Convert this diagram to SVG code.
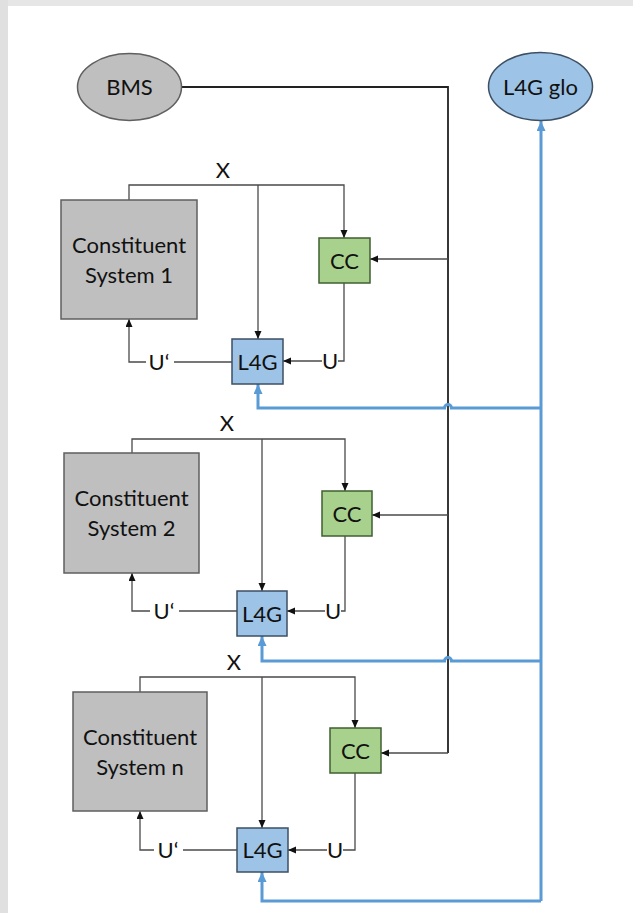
<svg xmlns="http://www.w3.org/2000/svg" width="633" height="913" viewBox="0 0 633 913">
  <style>
    text { font-family: Lato, "Open Sans", "Liberation Sans", sans-serif; fill: #111111; text-anchor: middle; }
    .lbl { font-size: 22px; }
    .sys { fill: #bfbfbf; stroke: #5f5f5f; stroke-width: 1.5; }
    .cc { fill: #a9d18e; stroke: #3f5f30; stroke-width: 1.5; }
    .l4g { fill: #9dc3e6; stroke: #3d4f63; stroke-width: 1.5; }
    .wire { fill: none; stroke: #4a4a4a; stroke-width: 1.3; }
    .bus { fill: none; stroke: #222222; stroke-width: 1.8; }
    .blue { fill: none; stroke: #5b9bd5; stroke-width: 3; }
    .arr { marker-end: url(#ah); }
    .barr { marker-end: url(#bh); }
  </style>
  <defs>
    <marker id="ah" markerUnits="userSpaceOnUse" markerWidth="9" markerHeight="8" refX="8" refY="3.5" orient="auto">
      <path d="M0,0 L8,3.5 L0,7 z" fill="#111111"/>
    </marker>
    <marker id="bh" markerUnits="userSpaceOnUse" markerWidth="11" markerHeight="10" refX="10" refY="4.5" orient="auto">
      <path d="M0,0 L10,4.5 L0,9 z" fill="#5b9bd5"/>
    </marker>
  </defs>

  <!-- page frame -->
  <rect x="0" y="0" width="633" height="913" fill="#ffffff"/>
  <rect x="0" y="0" width="633" height="6" fill="#e6e6e6"/>
  <rect x="0" y="0" width="8" height="913" fill="#e0e0e0"/>

  <!-- connectors -->
  <g id="connectors">
    <!-- BMS bus feeding every CC -->
    <path class="bus" d="M182,87 H448 V753"/>
    <path class="wire arr" d="M448,259 H370"/>
    <path class="wire arr" d="M448,515 H372"/>
    <path class="wire arr" d="M448,753 H381"/>

    <!-- system 1 -->
    <path class="wire arr" d="M129,200 V185 H344 V238"/>
    <path class="wire arr" d="M258,185 V339"/>
    <path class="wire" d="M344,283 V361 H338"/>
    <path class="wire arr" d="M322,361 H283"/>
    <path class="wire" d="M232,362 H174"/>
    <path class="wire arr" d="M146,362 H129 V319"/>

    <!-- system 2 -->
    <path class="wire arr" d="M132,453 V439 H345 V491"/>
    <path class="wire arr" d="M262,439 V591"/>
    <path class="wire" d="M345,536 V611 H341"/>
    <path class="wire arr" d="M325,611 H287"/>
    <path class="wire" d="M237,611 H179"/>
    <path class="wire arr" d="M150,611 H132 V573"/>

    <!-- system n -->
    <path class="wire arr" d="M140,692 V677 H355 V728"/>
    <path class="wire arr" d="M262,677 V828"/>
    <path class="wire" d="M355,773 V850 H343"/>
    <path class="wire arr" d="M327,850 H288"/>
    <path class="wire" d="M237,850 H183"/>
    <path class="wire arr" d="M154,850 H140 V811"/>

    <!-- L4G global links -->
    <path class="blue barr" d="M541,901 V121"/>
    <path class="blue barr" d="M541,408 H451.5 a3.5,3.5 0 0 0 -7,0 H258 V384"/>
    <path class="blue barr" d="M541,661 H451.5 a3.5,3.5 0 0 0 -7,0 H262 V636"/>
    <path class="blue barr" d="M541,901 H262 V872"/>
  </g>

  <!-- connector labels -->
  <g id="labels" class="lbl">
    <text x="223" y="178">X</text>
    <text x="159" y="370">U‘</text>
    <text x="330" y="369">U</text>
    <text x="227" y="431">X</text>
    <text x="164" y="619">U‘</text>
    <text x="333" y="619">U</text>
    <text x="234" y="670">X</text>
    <text x="168" y="858">U‘</text>
    <text x="335" y="858">U</text>
  </g>

  <g id="bms">
    <ellipse class="sys" cx="129.5" cy="87" rx="52" ry="33.5"/>
    <text class="lbl" x="129.5" y="95">BMS</text>
  </g>
  <g id="l4g-global">
    <ellipse class="l4g" cx="540.5" cy="86.5" rx="52" ry="34"/>
    <text class="lbl" x="540.5" y="95">L4G glo</text>
  </g>

  <!-- system 1 -->
  <g id="cs1">
    <rect class="sys" x="61" y="200" width="136" height="119"/>
    <text class="lbl" x="129" y="253">Constituent</text>
    <text class="lbl" x="129" y="283">System 1</text>
  </g>
  <g id="cc1">
    <rect class="cc" x="319" y="238" width="51" height="45"/>
    <text class="lbl" x="344.5" y="269">CC</text>
  </g>
  <g id="l4g1">
    <rect class="l4g" x="232" y="339" width="51" height="45"/>
    <text class="lbl" x="257.5" y="370">L4G</text>
  </g>

  <!-- system 2 -->
  <g id="cs2">
    <rect class="sys" x="64" y="453" width="135" height="120"/>
    <text class="lbl" x="131.5" y="506">Constituent</text>
    <text class="lbl" x="131.5" y="536">System 2</text>
  </g>
  <g id="cc2">
    <rect class="cc" x="322" y="491" width="50" height="45"/>
    <text class="lbl" x="347" y="522">CC</text>
  </g>
  <g id="l4g2">
    <rect class="l4g" x="237" y="591" width="50" height="45"/>
    <text class="lbl" x="262" y="622">L4G</text>
  </g>

  <!-- system n -->
  <g id="csn">
    <rect class="sys" x="73" y="692" width="134" height="119"/>
    <text class="lbl" x="140" y="745">Constituent</text>
    <text class="lbl" x="140" y="775">System n</text>
  </g>
  <g id="ccn">
    <rect class="cc" x="330" y="728" width="51" height="45"/>
    <text class="lbl" x="355.5" y="759">CC</text>
  </g>
  <g id="l4gn">
    <rect class="l4g" x="237" y="828" width="51" height="44"/>
    <text class="lbl" x="262.5" y="858">L4G</text>
  </g>
</svg>
